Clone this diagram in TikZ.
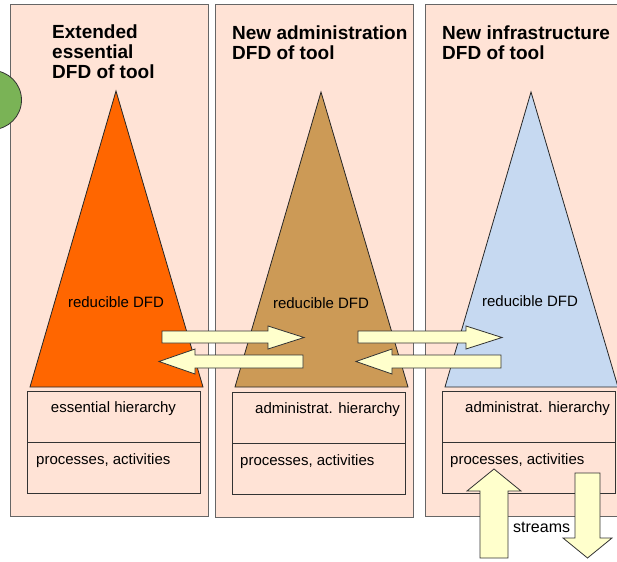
\documentclass[tikz,border=0pt]{standalone}
\usepackage{fontspec}
\setmainfont{Liberation Sans}
\usetikzlibrary{positioning}
\definecolor{panelfill}{HTML}{FFE3D6}
\definecolor{essorange}{HTML}{FF6600}
\definecolor{admtan}{HTML}{CC9A56}
\definecolor{infblue}{HTML}{C6D9F1}
\definecolor{leafgreen}{HTML}{7AB356}
\definecolor{arrowfill}{HTML}{FFFFCC}

\begin{document}
\begin{tikzpicture}[x=1pt,y=-1pt,line join=miter]
		\tikzstyle{panel}=[draw=black!60,fill=panelfill,line width=1pt]
		\tikzstyle{cone}=[draw=black!85,line width=0.8pt]
		\tikzstyle{part}=[draw=black!80,fill=panelfill,line width=1pt,inner sep=0,
			minimum width=173pt,minimum height=51pt]
		\tikzstyle{title}=[anchor=base west,inner sep=0,align=left,
			font=\fontsize{19}{20}\selectfont\bfseries]
		\tikzstyle{lbl}=[anchor=base,inner sep=0,font=\fontsize{15}{18}\selectfont]
		\tikzstyle{lblw}=[lbl,anchor=base west]
		\tikzstyle{blockarrow}=[draw=black!80,fill=arrowfill,line width=0.8pt]
		
		\useasboundingbox (0,0) rectangle (617,561);
		
		\draw[panel] (10,5) rectangle (208,516);
		\draw[panel] (215,5) rectangle (413,517);
		\draw[panel] (425,5) rectangle (640,516);
		
		\node[circle,draw=black!80,fill=leafgreen,line width=0.8pt,minimum size=59pt] (seed) at (-8,100) {};
		
		\node[title] (t1) at (52,79) {Extended\\essential\\DFD of tool};
		\node[title] (t2) at (232,60) {New administration\\DFD of tool};
		\node[title] (t3) at (442,60) {New infrastructure\\DFD of tool};
		
		\draw[cone,fill=essorange] (116,91) -- (203,387) -- (30,387) -- cycle;
		\draw[cone,fill=admtan] (321,92) -- (408,387) -- (235,387) -- cycle;
		\draw[cone,fill=infblue] (531,92) -- (618,387) -- (445,387) -- cycle;
		
		\node[lbl] (r1) at (116,307) {reducible DFD};
		\node[lbl] (r2) at (321,308) {reducible DFD};
		\node[lbl] (r3) at (530,306) {reducible DFD};
		
		\node[part] (h1) at (113.5,416.5) {};
		\node[part] (p1) at (113.5,467.5) {};
		\node[part] (h2) at (318.5,417.5) {};
		\node[part] (p2) at (318.5,468.5) {};
		\node[part] (h3) at (529,416.5) {};
		\node[part] (p3) at (529,467.5) {};
		
		\node[lbl] (h1t) at (113.5,412) {essential hierarchy};
		\node[lblw] (h2t) at (255,413) {administrat. hierarchy};
		\node[lblw] (h3t) at (465,412) {administrat. hierarchy};
		\node[lblw] (p1t) at (36,464) {processes, activities};
		\node[lblw] (p2t) at (240,465) {processes, activities};
		\node[lblw] (p3t) at (450,464) {processes, activities};
		
		\draw[blockarrow] (162,331) -- (268,331) -- (268,326) -- (304,337.5)
			-- (268,349) -- (268,343) -- (162,343) -- cycle;
		\draw[blockarrow] (303,355) -- (195,355) -- (195,349) -- (159,361.5)
			-- (195,374) -- (195,368) -- (303,368) -- cycle;
		\draw[blockarrow] (358,331) -- (466,331) -- (466,326) -- (502,337.5)
			-- (466,349) -- (466,343) -- (358,343) -- cycle;
		\draw[blockarrow] (501,355) -- (392,355) -- (392,349) -- (356,361.5)
			-- (392,374) -- (392,368) -- (501,368) -- cycle;
		
		\draw[blockarrow] (480,558) -- (480,491) -- (467,491) -- (494,469)
			-- (521,491) -- (508,491) -- (508,558) -- cycle;
		\draw[blockarrow] (575,473) -- (600,473) -- (600,538) -- (612,538)
			-- (587.5,558) -- (563,538) -- (575,538) -- cycle;
		
		\node[lblw,font=\fontsize{16}{18}\selectfont] (st) at (513,532) {streams};
\end{tikzpicture}
\end{document}
